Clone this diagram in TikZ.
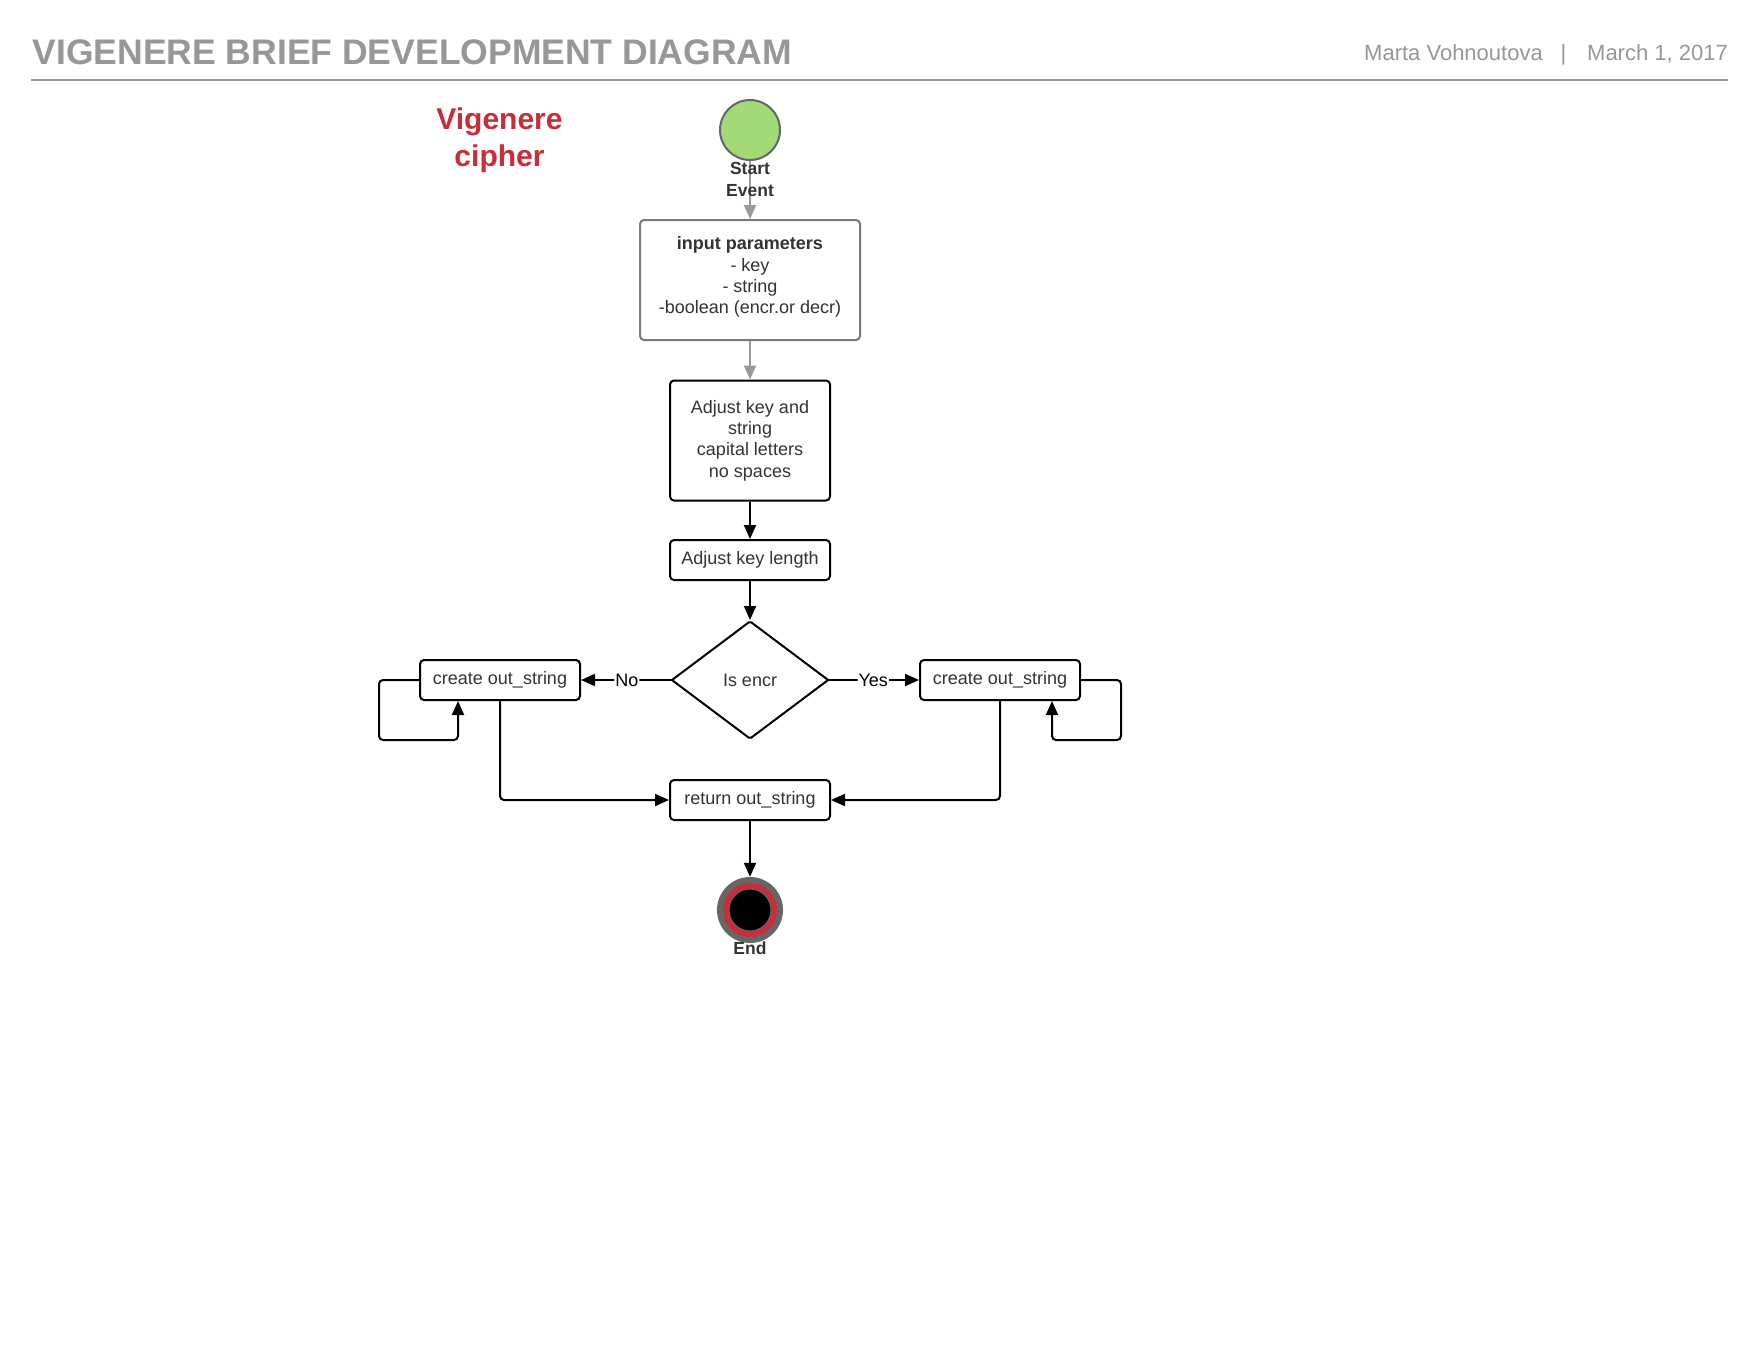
\documentclass[tikz,border=0pt]{standalone}
\usepackage{fontspec}
\setmainfont{Liberation Sans}
\usetikzlibrary{arrows.meta,shapes.geometric}
\definecolor{hdr}{HTML}{979797}
\definecolor{txt}{HTML}{333333}
\definecolor{redc}{HTML}{C92D39}
\definecolor{greenc}{HTML}{A3D977}
\definecolor{ringgray}{HTML}{666666}
\definecolor{boxgray}{HTML}{7A7A7A}
\definecolor{arrgray}{HTML}{999999}
\begin{document}
\begin{tikzpicture}[x=1pt,y=-1pt,
  box/.style={draw=black, line width=2pt, rounded corners=4pt, fill=white, text=txt,
    align=center, font=\fontsize{18}{21.3}\selectfont, inner sep=0pt},
  conn/.style={draw=black, line width=2pt, -{Triangle[length=14pt,width=12pt]}, rounded corners=4pt},
  gconn/.style={conn, draw=arrgray},
  lbl/.style={font=\fontsize{18}{21}\selectfont, text=black, fill=white, inner sep=1pt},
  evt/.style={font=\bfseries\fontsize{17.5}{22}\selectfont, text=txt, align=center, inner sep=0pt},
  hdrtxt/.style={text=hdr, inner sep=0pt, font=\fontsize{22}{26}\selectfont}]
\useasboundingbox (0,0) rectangle (1760,1360);
\fill[white] (0,0) rectangle (1760,1360);

% header
\node[anchor=base west, text=hdr, font=\bfseries\fontsize{35.5}{40}\selectfont, inner sep=0pt] (title) at (32.5,64) {VIGENERE BRIEF DEVELOPMENT DIAGRAM};
\draw[hdr, line width=2pt] (31,80) -- (1728,80);
\node[hdrtxt, anchor=base west] (author) at (1364,60) {Marta Vohnoutova};
\node[hdrtxt, anchor=base] (sep) at (1563.5,60) {|};
\node[hdrtxt, anchor=base east] (date) at (1728,60) {March 1, 2017};

% side title
\node[text=redc, font=\bfseries\fontsize{30}{37}\selectfont, align=center, inner sep=0pt] (ttl) at (499.5,140) {Vigenere\\cipher};

% nodes
\node[circle, draw=ringgray, line width=2pt, fill=greenc, minimum size=60pt, inner sep=0pt] (start) at (750,130) {};
\node[box, draw=boxgray, minimum width=220pt, minimum height=120pt] (inp) at (750,280) {};
\node[text=txt, align=center, font=\fontsize{18}{21.3}\selectfont, inner sep=0pt] (inptxt) at (750,277)
  {\textbf{input parameters}\\- key\\- string\\-boolean (encr.or decr)};
\node[box, minimum width=160pt, minimum height=120pt] (adj) at (750,440.5)
  {Adjust key and\\string\\capital letters\\no spaces};
\node[box, minimum width=160pt, minimum height=40pt] (len) at (750,560) {Adjust key length};
\node[diamond, draw=black, line width=2pt, rounded corners=1.5pt, fill=white, minimum width=157pt,
  minimum height=118pt, inner sep=0pt, text=txt, font=\fontsize{18}{21}\selectfont] (dec) at (750,680) {Is encr};
\node[box, minimum width=160pt, minimum height=40pt] (cL) at (500,680) {create out\_string};
\node[box, minimum width=160pt, minimum height=40pt] (cR) at (1000,680) {create out\_string};
\node[box, minimum width=160pt, minimum height=40pt] (ret) at (750,800) {return out\_string};

\node[circle, fill=ringgray, minimum size=66pt, inner sep=0pt] (end) at (750,910) {};
\fill[redc] (end.center) circle (27pt);
\draw[ringgray, line width=1pt, fill=black] (end.center) circle (21pt);

% connectors
\draw[gconn] (start) -- (inp);
\draw[gconn] (inp) -- (adj);
\draw[conn] (adj) -- (len);
\draw[conn] (len) -- (dec);
\draw[conn] ([xshift=2pt]dec.west) -- node[lbl]{No} (cL);
\draw[conn] ([xshift=-2pt]dec.east) -- node[lbl]{Yes} (cR);
\draw[conn] (cL.west) -- ++(-40,0) -- ++(0,60) -| ([xshift=-42pt]cL.south);
\draw[conn] (cR.east) -- ++(40,0) -- ++(0,60) -| ([xshift=52pt]cR.south);
\draw[conn] (cL.south) |- (ret.west);
\draw[conn] (cR.south) |- (ret.east);
\draw[conn] (ret) -- (end);

% labels
\node[evt] (startlbl) at (750,179) {Start\\Event};
\node[evt] (endlbl) at (750,948.5) {End};
\end{tikzpicture}
\end{document}
